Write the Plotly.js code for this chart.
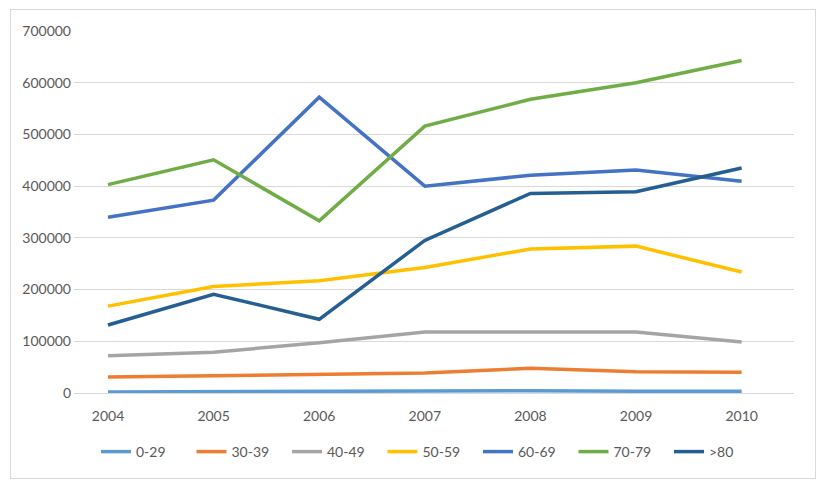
<!DOCTYPE html>
<html>
<head>
<meta charset="utf-8">
<script src="https://cdn.plot.ly/plotly-3.0.1.min.js"></script>
<style>
  html, body { margin: 0; padding: 0; background: #fff; }
  #chart { position: absolute; left: 0; top: 0; width: 823px; height: 493px; }
  #frame { position: absolute; left: 10px; top: 9px; width: 804px; height: 468px;
           border: 1px solid #d9d9d9; pointer-events: none; }
</style>
</head>
<body>
<div id="chart"></div>
<div id="frame"></div>
<script>
const years = ['2004', '2005', '2006', '2007', '2008', '2009', '2010'];
const age0_29  = [2000, 3000, 3500, 3500, 4500, 3500, 3500];
const age30_39 = [31000, 33000, 35000, 38500, 48000, 41000, 40000];
const age40_49 = [72000, 79000, 97000, 118000, 118000, 118000, 98500];
const age50_59 = [168000, 206000, 217000, 242500, 278500, 284000, 234000];
const age60_69 = [340000, 373000, 572000, 400000, 421000, 431000, 409500];
const age70_79 = [403000, 451000, 333000, 516000, 568000, 600000, 643000];
const age80    = [131500, 191000, 142500, 295000, 386000, 389000, 435000];

const seriesNames = ['0-29', '30-39', '40-49', '50-59', '60-69', '70-79', '>80'];
const seriesData = [age0_29, age30_39, age40_49, age50_59, age60_69, age70_79, age80];
const colors = ['#5B9BD5', '#ED7D31', '#A5A5A5', '#FFC000', '#4472C4', '#70AD47', '#255E91'];

const traces = seriesNames.map((n, i) => ({
  type: 'scatter',
  mode: 'lines',
  name: n,
  x: years,
  y: seriesData[i],
  line: { color: colors[i], width: 3.5 }
}));

const font = { family: 'Lato, "Open Sans", sans-serif', size: 14, color: '#595959' };

const layout = {
  width: 823,
  height: 493,
  margin: { l: 74, r: 29, t: 31, b: 100 },
  paper_bgcolor: '#ffffff',
  plot_bgcolor: '#ffffff',
  font: font,
  showlegend: true,
  xaxis: {
    type: 'category',
    range: [-0.322, 6.496],
    showgrid: false,
    zeroline: false,
    showline: false,
    ticks: '',
    tickfont: font,
    ticklabelstandoff: 13,
    fixedrange: true
  },
  yaxis: {
    range: [0, 700000],
    dtick: 100000,
    tick0: 0,
    showgrid: true,
    gridcolor: '#d9d9d9',
    gridwidth: 1,
    zeroline: true,
    zerolinecolor: '#d9d9d9',
    zerolinewidth: 1,
    showline: false,
    ticks: '',
    tickformat: 'd',
    tickfont: font,
    ticklabelstandoff: 2,
    fixedrange: true
  },
  legend: {
    orientation: 'h',
    xref: 'container',
    yref: 'container',
    x: 96 / 823,
    y: 1 - 452 / 493,
    xanchor: 'left',
    yanchor: 'middle',
    entrywidth: 50.5,
    entrywidthmode: 'pixels',
    font: font,
    bgcolor: 'rgba(0,0,0,0)',
    tracegroupgap: 0
  }
};

Plotly.newPlot('chart', traces, layout, { staticPlot: true, displayModeBar: false });
</script>
</body>
</html>
